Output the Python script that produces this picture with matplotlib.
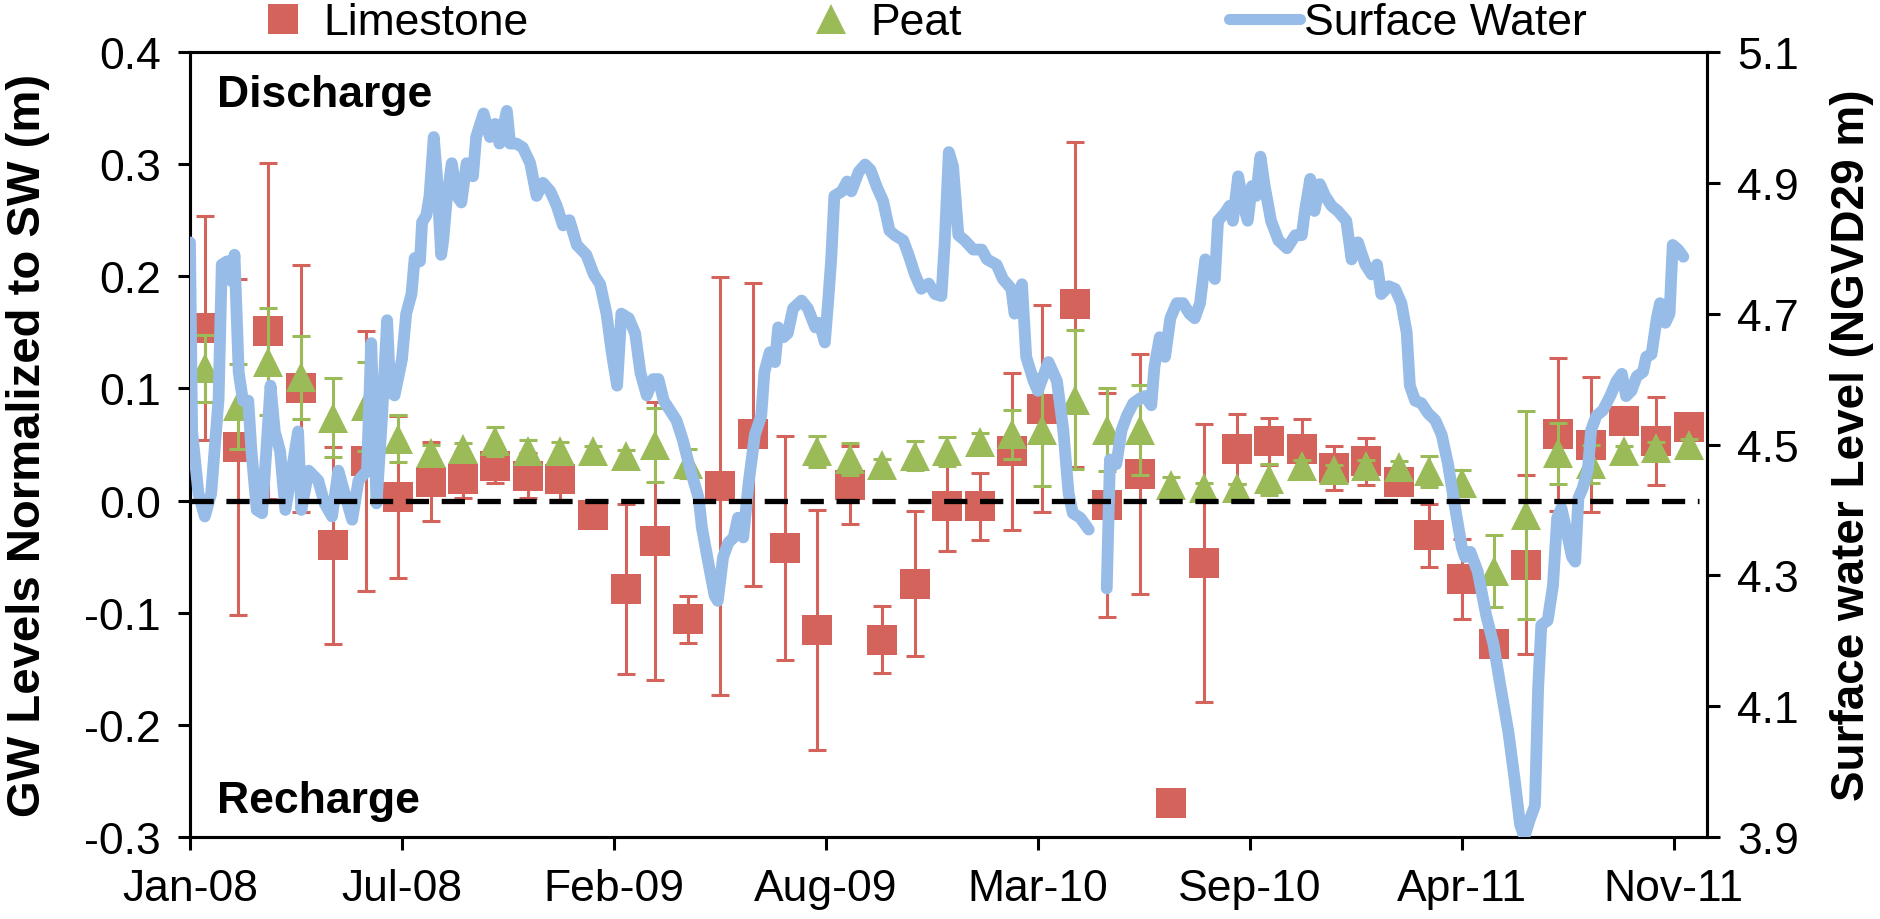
import matplotlib

matplotlib.use("Agg")

import matplotlib.dates as mdates
import matplotlib.pyplot as plt
import numpy as np
import pandas as pd
from matplotlib.lines import Line2D
from matplotlib.ticker import FormatStrFormatter
from matplotlib.transforms import blended_transform_factory

plt.rcParams["font.family"] = ["Liberation Sans", "DejaVu Sans"]
plt.rcParams["axes.unicode_minus"] = False

# monthly well readings (mid-month), Jan-08 .. Nov-11
months = pd.date_range("2008-01-01", "2011-11-01", freq="MS") + pd.Timedelta(days=14)

limestone = [
    0.154, 0.048, 0.151, 0.100, -0.040, 0.035, 0.003, 0.017, 0.019, 0.031,
    0.022, 0.019, -0.013, -0.079, -0.036, -0.106, 0.013, 0.059, -0.042, -0.115,
    0.014, -0.124, -0.074, -0.005, -0.005, 0.044, 0.082, 0.175, -0.004, 0.024,
    -0.270, -0.056, 0.046, 0.053, 0.046, 0.029, 0.035, 0.017, -0.031, -0.070,
    -0.128, -0.057, 0.059, 0.050, 0.071, 0.053, 0.066,
]
limestone_err = [
    0.100, 0.150, 0.150, 0.110, 0.088, 0.116, 0.072, 0.035, 0.017, 0.015,
    0.020, 0.020, 0.010, 0.076, 0.124, 0.021, 0.186, 0.135, 0.100, 0.107,
    0.035, 0.030, 0.065, 0.040, 0.030, 0.070, 0.092, 0.145, 0.100, 0.107,
    0.000, 0.124, 0.031, 0.021, 0.027, 0.020, 0.021, 0.010, 0.028, 0.036,
    0.005, 0.080, 0.068, 0.060, 0.010, 0.039, 0.005,
]
peat = [
    0.118, 0.084, 0.124, 0.110, 0.074, 0.084, 0.055, 0.042, 0.046, 0.053,
    0.044, 0.044, 0.044, 0.040, 0.050, 0.033, np.nan, np.nan, np.nan, 0.044,
    0.037, 0.032, 0.040, 0.044, 0.052, 0.059, 0.063, 0.090, 0.063, 0.063,
    0.014, 0.011, 0.011, 0.019, 0.031, 0.027, 0.031, 0.030, 0.026, 0.016,
    -0.063, -0.013, 0.042, 0.033, 0.044, 0.047, 0.050,
]
peat_err = [
    0.030, 0.038, 0.048, 0.037, 0.035, 0.040, 0.021, 0.008, 0.005, 0.013,
    0.010, 0.008, 0.005, 0.005, 0.033, 0.013, np.nan, np.nan, np.nan, 0.014,
    0.014, 0.005, 0.013, 0.013, 0.008, 0.022, 0.050, 0.062, 0.037, 0.040,
    0.007, 0.005, 0.004, 0.014, 0.005, 0.005, 0.005, 0.005, 0.014, 0.011,
    0.032, 0.093, 0.027, 0.017, 0.005, 0.005, 0.005,
]

# surface water stage, days after 1 Jan 2008 (NaN = gap in the record)
sw_day = [
    0, 2, 8, 14, 20, 27, 30, 35, 39, 42, 46, 50, 55, 58, 63, 68, 72, 76, 80, 85,
    90, 96, 102, 105, 112, 121, 127, 134, 140, 146, 153, 159, 167, 171, 176, 181,
    186, 189, 193, 200, 204, 209, 212, 217, 219, 223, 226, 230, 233, 237,
    239, 242, 247, 252, 256, 261, 267, 270, 277, 283, 288, 292, 299, 302, 308,
    314, 321, 327, 333, 340, 346, 352, 358, 365, 374, 381, 387, 393, 398, 403,
    407, 414, 420, 425, 431, 437, 442, 447, 453, 459, 465, 472, 480,
    483, 489, 495, 498, 503, 508, 513, 517, 522, 527, 533, 539, 542, 547, 552,
    555, 560, 564, 569, 577, 583, 590, 594, 599, 602, 605, 608, 615, 620, 624,
    631, 637, 642, 648, 654, 660, 665, 673, 678, 684, 690, 697, 703, 709, 712,
    716, 720, 725, 731, 739, 747, 752, 761, 767, 775, 778, 785, 789, 796, 800,
    810, 818, 824, 829, 833, 840, 848, 856, 865, 868, 874, 879, 884, 890, 896,
    901, 907, 910, 915, 920, 925, 931, 937, 943, 948, 953, 958,
    961, 967, 970, 976, 981, 984, 989, 994, 998, 1002, 1006, 1010, 1014, 1020,
    1027, 1035, 1043, 1049, 1052, 1057, 1061, 1066, 1071, 1077, 1083, 1091,
    1096, 1102, 1109, 1115, 1120, 1124, 1131, 1137, 1143, 1148, 1151, 1156,
    1162, 1168, 1175, 1181, 1187, 1193, 1200, 1203,
    1208, 1215, 1223, 1230, 1236, 1244, 1250, 1255, 1259, 1264, 1269, 1272,
    1275, 1281, 1286, 1290, 1294, 1299, 1304, 1307, 1310, 1314, 1319, 1322,
    1327, 1333, 1340, 1346, 1351, 1355, 1360, 1365, 1371, 1374, 1379, 1384,
    1387, 1392, 1396, 1399, 1404, 1409,
]
sw_level = [
    4.809, 4.520, 4.425, 4.390, 4.425, 4.570, 4.775, 4.780, 4.750, 4.790, 4.610,
    4.567, 4.567, 4.490, 4.400, 4.395, 4.490, 4.590, 4.520, 4.490, 4.400, 4.460,
    4.520, 4.400, 4.460, 4.445, 4.410, 4.390, 4.460, 4.425, 4.385, 4.445, 4.460,
    4.655, 4.410, 4.537, 4.690, 4.580, 4.575, 4.630, 4.700, 4.730, 4.785, 4.780,
    4.840, 4.850, 4.880, 4.970, 4.910, 4.790,
    4.813, 4.870, 4.930, 4.880, 4.870, 4.930, 4.910, 4.970, 5.006, 4.970, 4.990,
    4.960, 5.010, 4.960, 4.960, 4.954, 4.930, 4.880, 4.900, 4.887, 4.865, 4.835,
    4.843, 4.805, 4.790, 4.760, 4.745, 4.700, 4.640, 4.590, 4.700, 4.693, 4.670,
    4.610, 4.575, 4.600, 4.600, 4.567, 4.552, 4.537, 4.507, 4.462, 4.418,
    4.373, 4.320, 4.269, 4.261, 4.328, 4.350, 4.358, 4.388, 4.358, 4.440, 4.515,
    4.544, 4.611, 4.641, 4.626, 4.679, 4.664, 4.670, 4.708, 4.720, 4.708, 4.679,
    4.686, 4.656, 4.716, 4.783, 4.880, 4.887, 4.902, 4.887, 4.917, 4.928, 4.920,
    4.894, 4.872, 4.827, 4.820, 4.812, 4.790, 4.760, 4.738, 4.746, 4.730, 4.727,
    4.805, 4.947, 4.925, 4.820, 4.812, 4.798, 4.798, 4.783, 4.775, 4.753, 4.738,
    4.700, 4.745, 4.634, 4.597, 4.582, 4.626, 4.597, 4.522, 4.425, 4.395, 4.388,
    4.370, np.nan, 4.280, 4.477, 4.470, 4.522, 4.544, 4.563, 4.570, 4.574, 4.560,
    4.619, 4.664, 4.634, 4.693, 4.716, 4.716, 4.700, 4.693, 4.716, 4.783,
    4.775, 4.753, 4.842, 4.853, 4.865, 4.842, 4.910, 4.865, 4.842, 4.895, 4.880,
    4.940, 4.895, 4.842, 4.812, 4.800, 4.820, 4.820, 4.857, 4.906, 4.857, 4.898,
    4.880, 4.865, 4.857, 4.842, 4.783, 4.809, 4.775, 4.760, 4.775, 4.730, 4.742,
    4.738, 4.716, 4.671, 4.590, 4.567, 4.563, 4.548, 4.537, 4.515, 4.470, 4.410,
    4.343, 4.328,
    4.336, 4.306, 4.239, 4.194, 4.135, 4.060, 3.986, 3.919, 3.900, 3.926, 3.948,
    4.127, 4.224, 4.231, 4.284, 4.388, 4.403, 4.366, 4.328, 4.321, 4.418, 4.433,
    4.462, 4.522, 4.544, 4.552, 4.574, 4.597, 4.608, 4.574, 4.582, 4.604, 4.611,
    4.634, 4.638, 4.693, 4.716, 4.686, 4.700, 4.805, 4.798, 4.787,
]

gw_ticks = [-0.3, -0.2, -0.1, 0.0, 0.1, 0.2, 0.3, 0.4]
sw_ticks = [3.9, 4.1, 4.3, 4.5, 4.7, 4.9, 5.1]
start = pd.Timestamp("2008-01-01")
date_ticks = [start + pd.Timedelta(days=200 * k) for k in range(8)]

LIME_COLOR = "#D4635B"
PEAT_COLOR = "#9BBB59"
SW_COLOR = "#97BCE8"

sw_dates = start + pd.to_timedelta(sw_day, unit="D")

fig = plt.figure(figsize=(18.81, 9.2), dpi=100)
ax = fig.add_axes([0.1010, 0.0891, 0.8063, 0.8533])
ax2 = ax.twinx()

err_style = dict(fmt="none", elinewidth=2.2, capsize=6.5, capthick=2.2)
ax.errorbar(months, limestone, yerr=limestone_err, ecolor=LIME_COLOR, zorder=2, **err_style)
ax.plot(months, limestone, "s", ms=21, color=LIME_COLOR, mew=0, zorder=3)
ax.errorbar(months, peat, yerr=peat_err, ecolor=PEAT_COLOR, zorder=4, **err_style)
ax.plot(months, peat, "^", ms=22, color=PEAT_COLOR, mew=0, zorder=5)

ax2.plot(sw_dates, sw_level, color=SW_COLOR, lw=8.5, solid_joinstyle="round",
         solid_capstyle="round", zorder=3)
# zero line sits above the stage trace, so draw it on the twin in GW units
ax2.plot([0, 0.995], [0, 0], transform=blended_transform_factory(ax2.transAxes, ax.transData),
         color="black", lw=3.8, ls=(0, (4.4, 2.4)), zorder=5)

ax.set_xlim(start, start + pd.Timedelta(days=1431))
ax.set_ylim(-0.3, 0.4)
ax2.set_ylim(3.9, 5.1)
ax.set_xticks(date_ticks)
ax.xaxis.set_major_formatter(mdates.DateFormatter("%b-%y"))
ax.set_yticks(gw_ticks)
ax.yaxis.set_major_formatter(FormatStrFormatter("%.1f"))
ax2.set_yticks(sw_ticks)
ax2.yaxis.set_major_formatter(FormatStrFormatter("%.1f"))

for a in (ax, ax2):
    a.tick_params(direction="out", length=9, width=2.2, labelsize=32, pad=13)
    for spine in a.spines.values():
        spine.set_linewidth(2.2)
ax.tick_params(axis="y", pad=12)

ax.set_ylabel("GW Levels Normalized to SW (m)", fontsize=34, fontweight="bold")
ax.yaxis.set_label_coords(-0.092, 0.5)
ax2.set_ylabel("Surface water Level (NGVD29 m)", fontsize=33, fontweight="bold")
ax2.yaxis.set_label_coords(1.0815, 0.5)

ax.text(0.0178, 0.931, "Discharge", transform=ax.transAxes, fontsize=32,
        fontweight="bold", va="baseline", ha="left")
ax.text(0.0178, 0.032, "Recharge", transform=ax.transAxes, fontsize=32,
        fontweight="bold", va="baseline", ha="left")

handles = [
    Line2D([], [], marker="s", ls="none", color=LIME_COLOR, ms=21, mew=0),
    Line2D([], [], marker="^", ls="none", color=PEAT_COLOR, ms=21, mew=0),
    Line2D([], [], color=SW_COLOR, lw=8, solid_capstyle="round"),
]
fig.legend(
    handles, ["Limestone", "Peat", "Surface Water"], loc="center left",
    bbox_to_anchor=(0.1316, 0.974), ncol=3, frameon=False, fontsize=32,
    handlelength=1.6, handletextpad=0.1, columnspacing=6.0, borderpad=0,
    borderaxespad=0,
)

fig.savefig("out.png", dpi=100)
